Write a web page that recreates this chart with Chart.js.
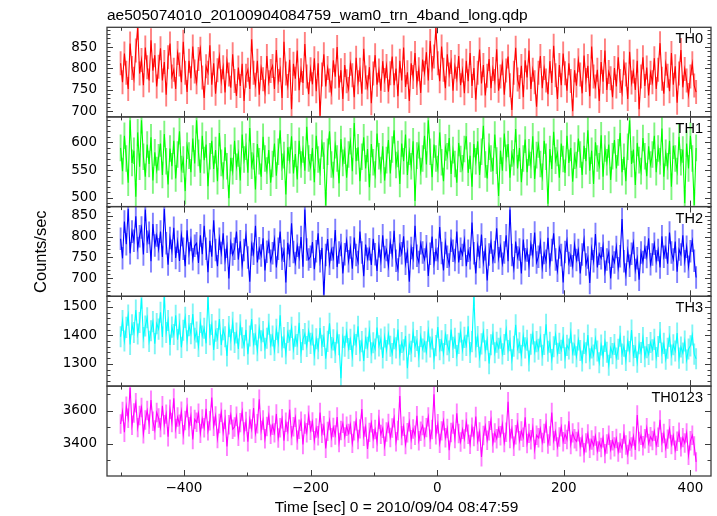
<!DOCTYPE html>
<html><head><meta charset="utf-8">
<script src="https://cdn.jsdelivr.net/npm/chart.js@4/dist/chart.umd.min.js"></script>
<style>
html,body{margin:0;padding:0;background:#fff;}
#wrap{position:relative;width:717px;height:516px;overflow:hidden;}
#wrap canvas{position:absolute;left:0;top:0;}
</style></head><body>
<div id="wrap">
<canvas id="c0" width="717" height="516"></canvas>
<canvas id="c1" width="717" height="516"></canvas>
<canvas id="c2" width="717" height="516"></canvas>
<canvas id="c3" width="717" height="516"></canvas>
<canvas id="c4" width="717" height="516"></canvas>
</div>
<script>
const plotTitle = 'ae505074010_20100904084759_wam0_trn_4band_long.qdp';
const xTitle = 'Time [sec] 0 = 2010/09/04 08:47:59';
const yTitle = 'Counts/sec';
const categories = ['TH0','TH1','TH2','TH3','TH0123'];
const binSize = 3;
const tStart = -500;

const th0 = [
812,768,835,790,752,858,801,776,842,895,788,820,761,849,803,772,866,795,831,758,
804,847,772,815,739,826,858,781,797,752,836,809,768,862,790,745,818,777,851,793,
768,822,846,779,731,805,790,854,762,812,741,796,828,770,803,744,817,786,755,833,
771,736,802,759,811,724,783,797,752,868,790,762,818,739,801,775,746,829,768,794,
806,752,843,771,797,731,862,788,759,820,705,811,776,842,749,796,766,857,781,740,
798,763,824,747,812,690,786,833,758,801,772,744,819,781,850,755,796,729,808,770,
752,811,784,733,825,768,797,741,846,779,756,803,719,788,831,762,795,748,817,773,
806,746,789,828,761,800,735,818,772,849,757,791,724,812,780,836,766,798,743,821,
790,838,772,864,801,828,895,812,770,851,797,754,833,786,815,748,804,776,829,761,
795,742,818,770,836,759,801,727,790,844,765,808,737,783,822,754,799,771,845,748,
781,812,739,795,828,761,703,790,848,774,757,806,733,819,779,842,752,797,768,711,
790,829,754,801,772,740,817,766,853,784,729,808,761,835,789,748,812,771,700,796,
760,819,786,742,830,773,806,735,851,781,758,797,724,815,769,842,750,792,777,733,
801,758,826,771,744,812,786,729,839,767,793,750,818,705,781,826,759,802,737,790,
768,824,752,797,859,776,741,811,783,747,836,762,805,720,788,843,756,799,772,738,
781,812,760,745];

const th1 = [
590,548,612,571,527,640,563,585,502,618,556,640,574,538,596,561,609,531,582,550,
573,598,541,615,566,524,589,557,603,535,578,620,552,569,512,594,576,546,607,562,
640,581,545,612,568,596,521,575,603,552,586,530,617,563,540,591,557,499,572,548,
603,556,580,531,614,569,592,545,626,558,575,515,597,566,538,610,571,549,586,527,
561,598,540,583,622,556,577,506,591,568,611,544,579,533,603,560,587,549,628,571,
555,590,528,612,569,547,598,576,486,583,620,560,541,595,571,526,606,563,585,536,
578,602,548,635,566,591,530,574,609,553,588,519,597,564,542,616,575,550,593,531,
568,604,544,587,622,559,579,525,598,566,614,541,583,557,602,494,576,595,548,571,
612,560,640,583,537,596,571,552,618,564,530,591,575,608,543,586,561,527,599,570,
553,588,611,545,576,520,597,566,602,541,583,630,560,535,592,571,548,614,567,503,
585,549,616,572,597,536,580,564,624,553,590,528,571,605,546,582,559,611,534,577,
596,561,538,603,574,489,588,552,619,567,581,536,598,570,545,612,563,590,529,576,
559,607,578,541,594,566,622,549,585,525,600,571,557,613,538,589,564,596,532,575,
604,553,582,617,546,574,530,592,640,561,587,523,599,568,548,608,575,539,593,560,
578,612,546,589,566,625,538,581,557,603,520,594,571,548,610,564,587,490,598,553,
612,571,487,590];

const th2 = [
795,748,836,782,866,760,812,790,849,773,801,822,757,865,788,809,741,830,779,803,
770,812,751,866,784,733,797,766,821,749,788,742,804,771,729,815,760,792,746,778,
784,737,803,758,826,771,715,790,752,839,768,729,795,761,808,744,776,700,785,757,
771,812,745,789,731,768,804,750,692,781,759,826,738,772,755,796,719,764,787,742,
760,793,726,771,812,747,766,690,785,754,832,763,737,778,750,799,728,865,769,745,
752,787,722,765,808,741,773,661,756,794,735,769,749,816,727,762,780,712,758,790,
741,774,723,798,756,739,812,762,705,781,747,770,732,795,758,718,777,742,803,751,
768,730,786,755,814,742,721,779,760,801,735,764,692,773,748,826,754,739,784,762,
745,777,706,759,800,736,768,747,823,761,719,785,752,733,790,766,744,812,738,771,
756,791,729,766,748,834,760,712,779,751,805,738,770,695,757,786,742,763,820,748,
777,735,762,803,741,865,756,724,788,750,769,712,793,746,767,730,782,755,810,738,
752,786,726,761,742,797,733,768,808,745,718,774,756,690,763,790,737,755,729,781,
744,768,712,757,792,733,750,689,771,741,806,726,759,748,778,716,745,763,700,752,
738,775,724,753,842,741,709,766,730,759,785,720,748,697,762,739,774,751,796,734,
757,783,741,768,726,801,752,774,735,810,762,745,788,716,769,757,803,741,776,728,
765,790,742,702];

const th3 = [
1395,1452,1380,1428,1471,1368,1437,1410,1489,1405,1445,1530,1392,1433,1462,1379,1416,1448,1371,1441,
1422,1481,1394,1537,1410,1452,1366,1429,1403,1470,1385,1440,1358,1418,1463,1381,1434,1406,1475,1390,
1412,1361,1445,1398,1425,1372,1536,1402,1438,1349,1415,1389,1457,1366,1420,1395,1328,1431,1384,1446,
1375,1408,1352,1437,1391,1364,1419,1334,1398,1457,1370,1402,1346,1426,1381,1413,1355,1390,1439,1367,
1398,1347,1421,1374,1470,1359,1392,1336,1410,1383,1428,1352,1397,1368,1444,1340,1385,1406,1361,1415,
1372,1401,1331,1388,1353,1426,1365,1396,1318,1379,1442,1357,1384,1340,1408,1367,1250,1393,1362,1411,
1354,1386,1327,1401,1368,1432,1346,1378,1310,1390,1358,1415,1339,1374,1352,1427,1363,1387,1321,1394,
1347,1405,1362,1336,1388,1356,1420,1331,1375,1349,1398,1285,1369,1344,1411,1360,1382,1325,1396,1352,
1377,1342,1415,1359,1387,1318,1364,1429,1350,1381,1336,1403,1367,1345,1420,1358,1390,1329,1372,1412,
1348,1393,1365,1432,1340,1378,1540,1359,1396,1323,1370,1412,1346,1385,1301,1367,1404,1339,1376,1355,
1390,1335,1368,1419,1347,1381,1314,1362,1437,1352,1374,1329,1398,1356,1383,1310,1369,1405,1342,1378,
1351,1395,1330,1368,1439,1344,1376,1315,1360,1403,1337,1372,1348,1392,1321,1365,1352,1409,1338,1366,
1325,1384,1347,1310,1372,1339,1401,1318,1356,1331,1388,1345,1304,1366,1327,1379,1341,1295,1357,1336,
1368,1320,1351,1397,1334,1362,1312,1380,1343,1419,1329,1358,1306,1371,1340,1392,1325,1357,1333,1375,
1349,1386,1322,1361,1410,1338,1372,1316,1355,1396,1331,1367,1345,1408,1320,1359,1338,1380,1313,1352,
1363,1401,1334,1318];

const th0123 = [
3520,3596,3470,3628,3555,3740,3512,3587,3649,3498,3571,3620,3460,3544,3602,3518,3665,3537,3483,3590,
3556,3498,3631,3515,3580,3442,3609,3529,3676,3491,3562,3518,3597,3455,3541,3620,3503,3568,3426,3548,
3530,3585,3463,3551,3497,3612,3478,3540,3680,3506,3569,3432,3523,3591,3470,3548,3384,3515,3576,3488,
3502,3567,3445,3528,3596,3471,3535,3412,3550,3489,3617,3463,3521,3670,3480,3544,3430,3505,3572,3458,
3512,3466,3581,3435,3497,3552,3418,3530,3474,3608,3449,3503,3560,3422,3488,3536,3395,3520,3467,3573,
3481,3532,3419,3496,3448,3590,3463,3510,3372,3475,3541,3437,3499,3453,3562,3408,3480,3524,3441,3506,
3463,3517,3402,3478,3539,3426,3490,3611,3445,3502,3368,3469,3527,3431,3486,3410,3548,3457,3494,3385,
3471,3523,3438,3495,3557,3412,3480,3690,3449,3506,3395,3467,3533,3425,3489,3452,3570,3418,3476,3511,
3440,3498,3563,3427,3486,3700,3455,3521,3402,3478,3540,3436,3493,3360,3468,3519,3431,3585,3462,3410,
3487,3429,3532,3458,3396,3501,3444,3565,3415,3472,3320,3450,3508,3421,3479,3543,3404,3466,3430,3495,
3448,3519,3407,3470,3655,3432,3491,3385,3455,3527,3418,3477,3439,3560,3401,3463,3424,3498,3365,3452,
3436,3491,3408,3462,3525,3398,3447,3590,3419,3474,3380,3441,3503,3412,3458,3426,3537,3395,3466,3430,
3414,3472,3381,3438,3345,3405,3460,3372,3423,3389,3447,3356,3410,3377,3436,3340,3398,3452,3363,3418,
3381,3432,3350,3404,3371,3459,3392,3335,3417,3380,3446,3362,3575,3413,3451,3388,3430,3497,3402,3442,
3420,3476,3389,3439,3545,3407,3462,3372,3428,3491,3395,3448,3360,3415,3470,3381,3437,3404,3466,3330,
3418,3452,3387,3290];

const errors = [28, 24, 27, 37, 59];
const xTickValues = [-400, -200, 0, 200, 400];
const yTickValues = [[700,750,800,850],[500,550,600],[700,750,800,850],[1300,1400,1500],[3400,3600]];

// ---- presentation (not data) ----
const series = [th0, th1, th2, th3, th0123];
const times = th0.map((_, i) => tStart + i * binSize);
const lineColors = ['#ff0000', '#00ff00', '#0000ff', '#00ffff', '#ff00ff'];
const errColors = ['rgba(255,0,0,0.5)', 'rgba(0,235,0,0.5)', 'rgba(0,0,255,0.5)', 'rgba(0,235,235,0.5)', 'rgba(255,0,255,0.5)'];
const yMin = [687, 484, 657, 1222, 3204];
const yMax = [896, 646, 872, 1537, 3750];
const yMinor = [10, 10, 10, 20, 100];
const xMin = -521.5, xMax = 432.5;
const W = 717, H = 516;
const tops = [27.3, 116.9, 206.6, 296.3, 386.1];
const bottoms = [116.9, 206.6, 296.3, 386.1, 476];
const frameColor = '#3c3c3c';
const tickFont = {family: 'DejaVu Sans', size: 13.5};
const textFont = '15.5px "Liberation Sans", Arial, sans-serif';

function fmt(v){ return (v < 0 ? '\u2212' : '') + Math.abs(v); }

function makePanel(i){
  return {
    id: 'panel' + i,
    beforeDatasetsDraw(chart){
      const ctx = chart.ctx, xs = chart.scales.x, ys = chart.scales.y, a = chart.chartArea;
      const vals = series[i], e = errors[i];
      const bw = Math.abs(xs.getPixelForValue(binSize) - xs.getPixelForValue(0));
      ctx.save();
      ctx.beginPath(); ctx.rect(a.left, a.top, a.right - a.left, a.bottom - a.top); ctx.clip();
      ctx.strokeStyle = errColors[i]; ctx.lineWidth = bw;
      ctx.lineCap = 'butt';
      ctx.beginPath();
      for (let k = 0; k < vals.length; k++){
        const x = xs.getPixelForValue(times[k]);
        ctx.moveTo(x, ys.getPixelForValue(vals[k] + e));
        ctx.lineTo(x, ys.getPixelForValue(vals[k] - e));
      }
      ctx.stroke();
      ctx.restore();
    },
    afterDatasetsDraw(chart){
      const ctx = chart.ctx, xs = chart.scales.x, ys = chart.scales.y, a = chart.chartArea;
      ctx.save();
      ctx.strokeStyle = frameColor; ctx.lineWidth = 1.3;
      ctx.strokeRect(a.left, a.top, a.right - a.left, a.bottom - a.top);
      ctx.lineWidth = 1;
      ctx.beginPath();
      for (let v = Math.ceil(xMin / 100) * 100; v <= xMax; v += 100){
        const len = (v % 200 === 0) ? 6 : 3.5;
        const x = Math.round(xs.getPixelForValue(v)) + 0.5;
        ctx.moveTo(x, a.top); ctx.lineTo(x, a.top + len);
        ctx.moveTo(x, a.bottom); ctx.lineTo(x, a.bottom - len);
      }
      const mn = yMinor[i];
      for (let v = Math.ceil(yMin[i] / mn) * mn; v <= yMax[i]; v += mn){
        const len = yTickValues[i].includes(v) ? 6 : 3.5;
        const y = Math.round(ys.getPixelForValue(v)) + 0.5;
        ctx.moveTo(a.left, y); ctx.lineTo(a.left + len, y);
        ctx.moveTo(a.right, y); ctx.lineTo(a.right - len, y);
      }
      ctx.stroke();
      ctx.fillStyle = '#000';
      ctx.font = '14.5px "Liberation Sans", Arial, sans-serif';
      ctx.textAlign = 'right'; ctx.textBaseline = 'alphabetic';
      ctx.fillText(categories[i], 703, a.top + 16);
      ctx.font = textFont;
      if (i === 0){
        ctx.textAlign = 'left';
        ctx.fillText(plotTitle, 107, 20);
        ctx.save();
        ctx.translate(46, (tops[0] + bottoms[4]) / 2);
        ctx.rotate(-Math.PI / 2);
        ctx.textAlign = 'center';
        ctx.font = '16.5px "Liberation Sans", Arial, sans-serif';
        ctx.fillText(yTitle, 0, 0);
        ctx.restore();
      }
      if (i === 4){
        ctx.textAlign = 'center';
        ctx.fillText(xTitle, 396.5, 512);
      }
      ctx.restore();
    }
  };
}

for (let i = 0; i < 5; i++){
  const last = i === 4;
  new Chart(document.getElementById('c' + i), {
    type: 'line',
    data: { datasets: [{
      data: series[i].map((v, k) => ({x: times[k], y: v})),
      borderColor: lineColors[i], borderWidth: 1.1, pointRadius: 0, tension: 0, fill: false
    }]},
    options: {
      responsive: false, animation: false, events: [],
      layout: { padding: { left: 0, right: W - 711, top: tops[i], bottom: 0 } },
      plugins: { legend: {display: false}, tooltip: {enabled: false}, title: {display: false} },
      scales: {
        x: {
          type: 'linear', min: xMin, max: xMax, display: true,
          grid: {display: false, drawTicks: false}, border: {display: false},
          ticks: {display: last, stepSize: 200, padding: 4, font: tickFont, color: '#000', autoSkip: false, maxRotation: 0, callback: v => fmt(v)},
          afterBuildTicks: s => { s.ticks = xTickValues.map(v => ({value: v})); },
          afterFit: s => { s.height = H - bottoms[i]; }
        },
        y: {
          type: 'linear', min: yMin[i], max: yMax[i],
          grid: {display: false, drawTicks: false}, border: {display: false},
          ticks: {padding: 10, font: tickFont, color: '#000', autoSkip: false, callback: v => String(v)},
          afterBuildTicks: s => { s.ticks = yTickValues[i].map(v => ({value: v})); },
          afterFit: s => { s.width = 107; }
        }
      }
    },
    plugins: [makePanel(i)]
  });
}
</script>
</body></html>
